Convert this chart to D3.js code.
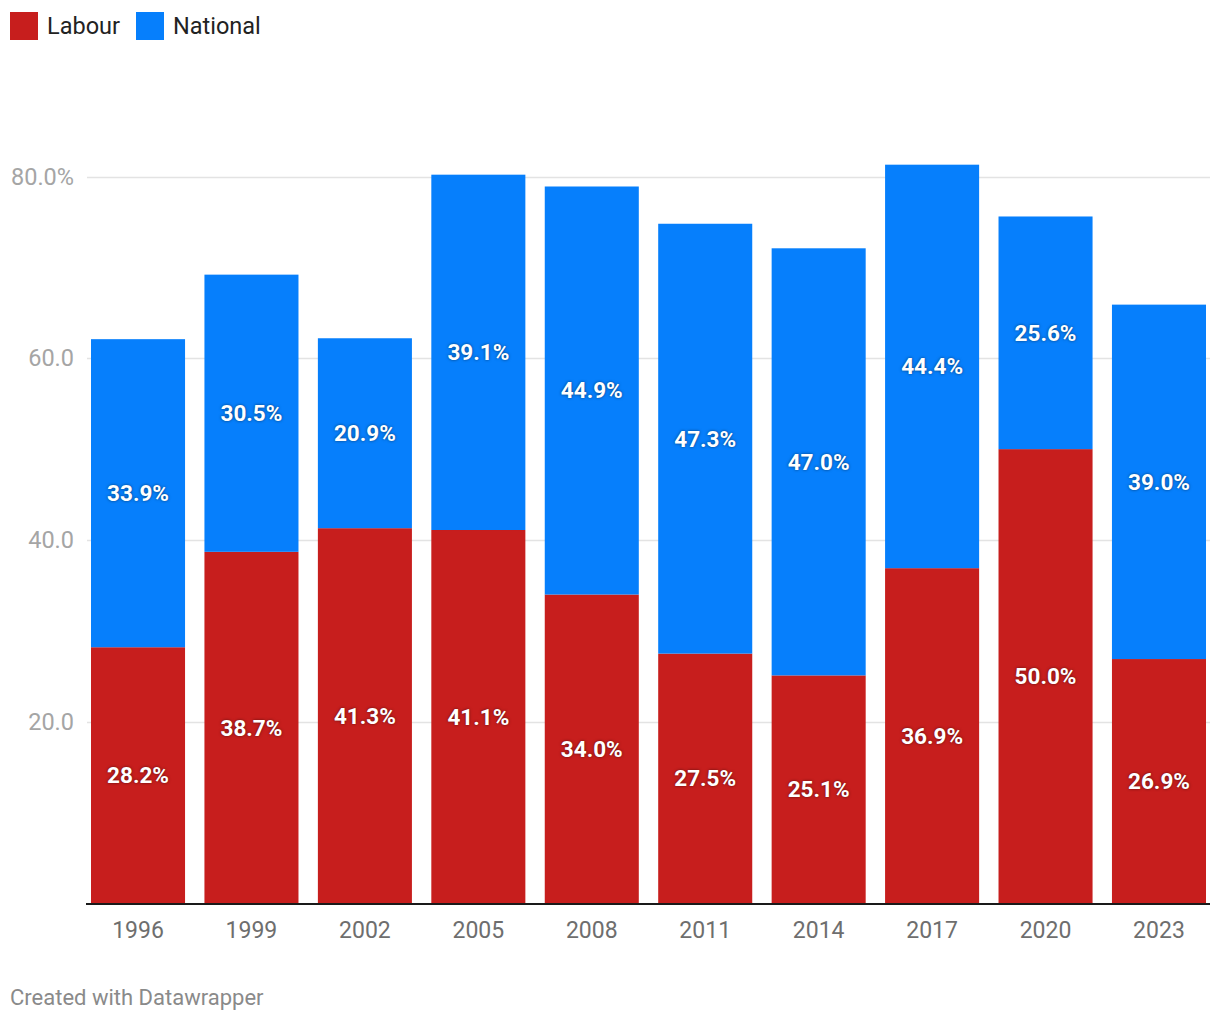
<!DOCTYPE html>
<html><head><meta charset="utf-8">
<script src="https://cdn.jsdelivr.net/npm/d3@7"></script>
<style>
body{margin:0;background:#fff;font-family:Roboto,"Noto Sans",sans-serif;}
svg text{font-family:Roboto,"Noto Sans",sans-serif;}
</style></head>
<body><svg id="c" width="1220" height="1020"></svg>
<script>
const years = ["1996","1999","2002","2005","2008","2011","2014","2017","2020","2023"];
const labour = [28.2,38.7,41.3,41.1,34.0,27.5,25.1,36.9,50.0,26.9];
const national = [33.9,30.5,20.9,39.1,44.9,47.3,47.0,44.4,25.6,39.0];
const seriesNames = ["Labour","National"];
const seriesColors = ["#c71e1d","#067ffc"];
const yTicks = [20,40,60,80];
const yTickLabels = ["20.0","40.0","60.0","80.0%"];

const svg = d3.select("#c");
const x = d3.scaleBand().domain(years).range([91,1206]).paddingInner(0.171).paddingOuter(0);
const y = d3.scaleLinear().domain([0,80]).range([903.5,176.5]);

// gridlines
svg.append("g").selectAll("line").data(yTicks).join("line")
  .attr("x1",87).attr("x2",1210)
  .attr("y1",d=>Math.round(y(d))+0.5).attr("y2",d=>Math.round(y(d))+0.5)
  .attr("stroke","#e3e3e3").attr("stroke-width",1.5);
svg.append("g").selectAll("text").data(yTicks).join("text")
  .attr("x",74).attr("y",d=>y(d)).attr("dy","0.35em")
  .attr("text-anchor","end").attr("font-size",23.5).attr("fill","#a5a5a5")
  .text((d,i)=>yTickLabels[i]);

const data = years.map((yr,i)=>({yr, l:labour[i], n:national[i]}));
const g = svg.append("g");
data.forEach(d=>{
  g.append("rect").attr("x",x(d.yr)).attr("width",x.bandwidth())
    .attr("y",y(d.l)).attr("height",y(0)-y(d.l)).attr("fill",seriesColors[0]);
  g.append("rect").attr("x",x(d.yr)).attr("width",x.bandwidth())
    .attr("y",y(d.l+d.n)).attr("height",y(d.l)-y(d.l+d.n)).attr("fill",seriesColors[1]);
});
const lab = svg.append("g").attr("font-size",22.5).attr("font-weight","bold").attr("fill","#fff")
  .attr("text-anchor","middle").style("text-shadow","0 0 3px rgba(0,0,0,0.55)");
data.forEach(d=>{
  lab.append("text").attr("x",x(d.yr)+x.bandwidth()/2).attr("y",y(d.l/2)).attr("dy","0.35em")
    .text(d.l.toFixed(1)+"%");
  lab.append("text").attr("x",x(d.yr)+x.bandwidth()/2).attr("y",y(d.l+d.n/2)).attr("dy","0.35em")
    .text(d.n.toFixed(1)+"%");
});

// x axis
svg.append("line").attr("x1",86).attr("x2",1210).attr("y1",904).attr("y2",904)
  .attr("stroke","#1a1a1a").attr("stroke-width",2);
svg.append("g").selectAll("text").data(years).join("text")
  .attr("x",d=>x(d)+x.bandwidth()/2).attr("y",929.5).attr("dy","0.35em")
  .attr("text-anchor","middle").attr("font-size",23).attr("fill","#6e6e6e").text(d=>d);

// legend
const leg = svg.append("g");
const legX = [10,136];
seriesNames.forEach((s,i)=>{
  leg.append("rect").attr("x",legX[i]).attr("y",12).attr("width",28).attr("height",28).attr("fill",seriesColors[i]);
  leg.append("text").attr("x",legX[i]+37).attr("y",26).attr("dy","0.35em")
    .attr("font-size",23.5).attr("fill","#222").text(s);
});

svg.append("text").attr("x",10).attr("y",997).attr("dy","0.35em")
  .attr("font-size",22).attr("fill","#8a8a8a").text("Created with Datawrapper");
</script></body></html>
